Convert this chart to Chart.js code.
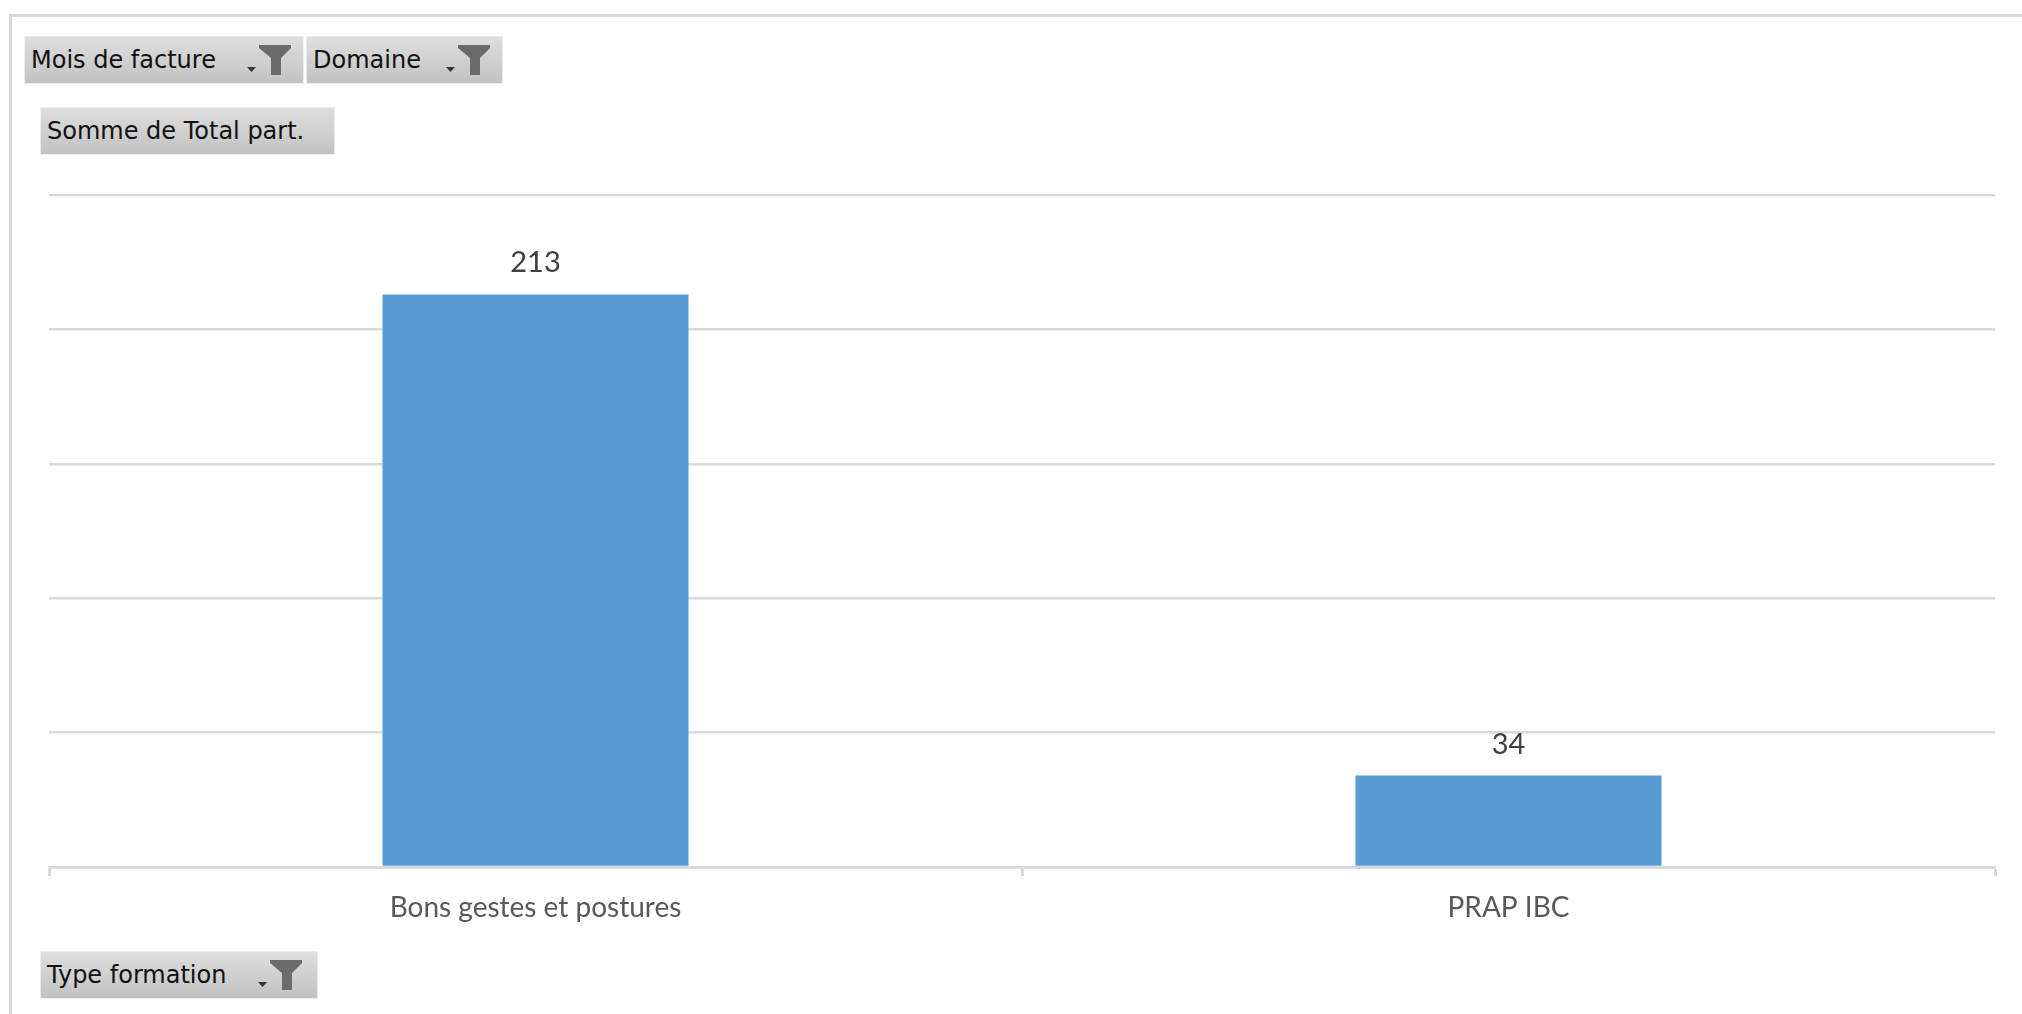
<!DOCTYPE html>
<html lang="fr">
<head>
<meta charset="utf-8">
<title>Somme de Total part.</title>
<script src="https://cdn.jsdelivr.net/npm/chart.js@4.4.1/dist/chart.umd.min.js"></script>
<style>
  html, body { margin: 0; padding: 0; background: #fff; }
  body { width: 2022px; height: 1014px; position: relative; overflow: hidden; }
  /* cadre du graphique croisé */
  .cadre { position: absolute; left: 9px; top: 14px; right: -20px; bottom: -20px;
           border-top: 3px solid #d9d9d9; border-left: 3px solid #d9d9d9; }
  #graphique { position: absolute; left: 0; top: 0; }
  .bouton { position: absolute; height: 48px; box-sizing: border-box;
            background: linear-gradient(#dedede, #c2c2c2);
            border: 1px solid #ededed;
            font-family: "DejaVu Sans", sans-serif;
            font-size: 24px; line-height: 46px; color: #111;
            padding-left: 6px; white-space: nowrap; }
  .bouton svg { position: absolute; right: 11px; top: 8px; }
</style>
</head>
<body>

<div class="cadre"></div>
<canvas id="graphique" width="2022" height="1014"></canvas>

<div class="bouton" style="left:24px; top:36px; width:280px;">Mois de facture<svg width="46" height="31"><polygon points="1,22 10,22 5.5,27" fill="#333"/><path d="M13,0 H45 V3 L35,13 V30 H25 V13 L13,3 Z" fill="#6b6b6b"/></svg></div>
<div class="bouton" style="left:306px; top:36px; width:197px;">Domaine<svg width="46" height="31"><polygon points="1,22 10,22 5.5,27" fill="#333"/><path d="M13,0 H45 V3 L35,13 V30 H25 V13 L13,3 Z" fill="#6b6b6b"/></svg></div>
<div class="bouton" style="left:40px; top:107px; width:295px;">Somme de Total part.</div>
<div class="bouton" style="left:40px; top:951px; width:278px;">Type formation<svg width="46" height="31" style="right:14px"><polygon points="1,22 10,22 5.5,27" fill="#333"/><path d="M13,0 H45 V3 L35,13 V30 H25 V13 L13,3 Z" fill="#6b6b6b"/></svg></div>

<script>
// Données
const categories = ['Bons gestes et postures', 'PRAP IBC'];
const totalPart = [213, 34];
const yMin = 0;
const yMax = 250;
const yPas = 50;

const policeTexte = 'Lato, "Open Sans", sans-serif';

// étiquettes de valeur au-dessus des barres
const etiquettesValeurs = {
  id: 'etiquettesValeurs',
  afterDatasetsDraw(chart) {
    const ctx = chart.ctx;
    const meta = chart.getDatasetMeta(0);
    ctx.save();
    ctx.font = '29px ' + policeTexte;
    ctx.fillStyle = '#404040';
    ctx.textAlign = 'center';
    ctx.textBaseline = 'alphabetic';
    meta.data.forEach((barre, i) => {
      ctx.fillText(totalPart[i], barre.x, barre.y - 22);
    });
    ctx.restore();
  }
};

new Chart(document.getElementById('graphique'), {
  type: 'bar',
  data: {
    labels: categories,
    datasets: [{
      label: 'Total',
      data: totalPart,
      backgroundColor: '#5b9bd5',
      borderWidth: 0,
      barPercentage: 0.3145,
      categoryPercentage: 1
    }]
  },
  options: {
    responsive: false,
    animation: false,
    layout: { padding: { top: 195, right: 27, left: 0, bottom: 0 } },
    plugins: {
      legend: { display: false },
      tooltip: { enabled: false },
      title: { display: false }
    },
    scales: {
      x: {
        afterFit: (s) => { s.height = 1014 - 867; },
        border: { color: '#d9d9d9', width: 3 },
        grid: {
          offset: true,
          drawOnChartArea: false,
          drawTicks: true,
          tickLength: 9,
          tickColor: '#d9d9d9',
          tickWidth: 3
        },
        ticks: {
          color: '#595959',
          padding: 15,
          font: { size: 28, family: policeTexte }
        }
      },
      y: {
        min: yMin,
        max: yMax,
        afterFit: (s) => { s.width = 49; },
        border: { display: false },
        grid: { color: '#d9d9d9', lineWidth: 2.5, drawTicks: false },
        ticks: { display: false, stepSize: yPas }
      }
    }
  },
  plugins: [etiquettesValeurs]
});
</script>
</body>
</html>
